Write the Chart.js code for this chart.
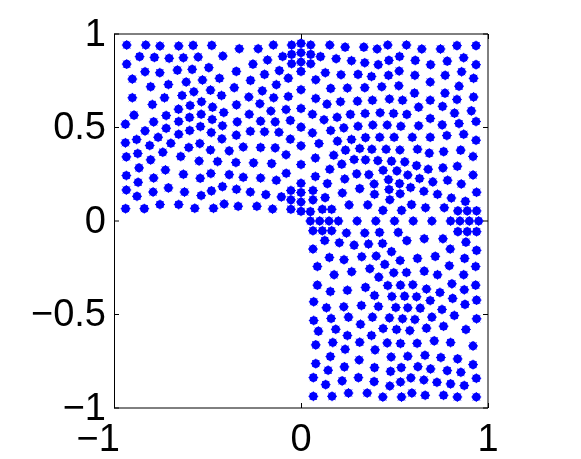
<!DOCTYPE html>
<html><head><meta charset="utf-8">
<style>html,body{margin:0;padding:0;background:#fff}canvas{display:block}</style>
<script src="https://cdn.jsdelivr.net/npm/chart.js@4"></script></head>
<body><canvas id="c" width="581" height="459"></canvas>
<script>
const xTickValues=[-1,0,1];
const xTickLabels=['\u22121   ','0','1'];
const yTickValues=[-1,-0.5,0,0.5,1];
const yTickLabels=['\u22121','\u22120.5','0','0.5','1'];
const upperLeftPoints=[[-.932,.941],[-.83,.941],[-.754,.936],[-.654,.936],[-.577,.939],[-.477,.939],[-.33,.921],[-.229,.921],[-.148,.941],[-.05,.941],[0,.95],[-.05,.891],[0,.9],[-.098,.88],[-.179,.861],[-.05,.841],[0,.85],[-.863,.879],[-.784,.875],[-.705,.87],[-.629,.873],[-.55,.877],[-.418,.882],[-.932,.839],[-.257,.839],[-.834,.798],[-.755,.793],[-.661,.807],[-.582,.811],[-.493,.82],[-.346,.8],[-.195,.784],[-.116,.804],[0,.8],[-.902,.759],[-.436,.763],[-.527,.754],[-.27,.752],[-.068,.764],[-.804,.718],[-.709,.73],[-.614,.743],[-.357,.713],[-.132,.729],[-.484,.7],[-.573,.691],[-.207,.696],[0,.702],[-.902,.659],[-.73,.659],[-.636,.671],[-.425,.671],[-.279,.663],[-.146,.659],[-.068,.666],[-.795,.623],[-.593,.618],[-.532,.638],[-.473,.609],[-.345,.621],[-.22,.627],[0,.602],[-.655,.598],[-.413,.58],[-.161,.588],[-.08,.596],[-.893,.566],[-.721,.564],[-.596,.554],[-.534,.571],[-.277,.571],[-.939,.518],[-.788,.53],[-.654,.532],[-.475,.543],[-.341,.53],[-.216,.534],[-.138,.53],[-.057,.538],[-.721,.496],[-.538,.505],[-.42,.509],[0,.502],[-.834,.482],[-.595,.484],[-.48,.473],[-.271,.48],[-.195,.477],[-.118,.475],[-.654,.464],[-.346,.459],[-.764,.448],[-.879,.436],[-.423,.439],[-.057,.438],[-.939,.418],[-.696,.416],[-.541,.414],[-.809,.404],[-.6,.393],[-.309,.396],[-.216,.393],[-.138,.391],[0,.402],[-.739,.368],[-.484,.38],[-.384,.375],[-.873,.361],[-.08,.354],[-.934,.343],[-.643,.345],[-.804,.327],[-.545,.321],[-.446,.318],[-.348,.313],[-.254,.311],[-.157,.307],[0,.302],[-.866,.284],[-.725,.273],[-.934,.243],[-.629,.25],[-.482,.254],[-.384,.248],[-.309,.234],[-.216,.23],[-.079,.255],[-.788,.23],[-.539,.229],[-.132,.218],[-.871,.207],[0,.202],[-.934,.166],[-.791,.155],[-.709,.177],[-.623,.155],[-.479,.161],[-.42,.184],[-.345,.17],[-.271,.155],[-.188,.141],[-.054,.163],[0,.152],[-.877,.132],[-.534,.136],[-.105,.129],[-.054,.113],[0,.102],[-.938,.066],[-.838,.066],[-.754,.088],[-.654,.088],[-.568,.068],[-.468,.068],[-.411,.091],[-.336,.079],[-.236,.079],[-.152,.064],[-.054,.063],[0,.052]];
const upperRightPoints=[[.052,.941],[.052,.891],[.052,.841],[.104,.879],[.154,.941],[.236,.93],[.336,.93],[.407,.92],[.464,.941],[.564,.941],[.646,.92],[.746,.92],[.834,.938],[.936,.938],[.188,.868],[.27,.857],[.341,.846],[.413,.836],[.47,.859],[.527,.88],[.611,.859],[.693,.836],[.782,.855],[.87,.873],[.936,.836],[.13,.793],[.079,.755],[.214,.782],[.305,.784],[.377,.773],[.468,.779],[.525,.802],[.609,.779],[.771,.779],[.859,.798],[.923,.763],[.691,.743],[.159,.709],[.248,.711],[.341,.713],[.432,.718],[.523,.723],[.845,.721],[.607,.684],[.77,.684],[.923,.663],[.079,.655],[.139,.625],[.211,.638],[.302,.641],[.382,.646],[.473,.652],[.543,.646],[.691,.646],[.834,.65],[.629,.609],[.757,.613],[.911,.589],[.061,.571],[.193,.555],[.264,.57],[.343,.575],[.423,.579],[.495,.575],[.566,.57],[.821,.577],[.123,.541],[.691,.548],[.936,.532],[.229,.498],[.159,.484],[.305,.507],[.384,.513],[.461,.513],[.534,.507],[.629,.509],[.755,.514],[.845,.521],[.061,.471],[.87,.464],[.345,.446],[.27,.436],[.195,.427],[.421,.448],[.498,.448],[.595,.448],[.691,.448],[.78,.457],[.936,.432],[.096,.414],[.314,.388],[.379,.384],[.455,.384],[.529,.38],[.623,.384],[.686,.363],[.763,.371],[.854,.379],[.238,.379],[.175,.352],[.077,.337],[.284,.329],[.345,.327],[.411,.323],[.484,.32],[.555,.316],[.92,.345],[.218,.304],[.618,.296],[.759,.284],[.836,.293],[.154,.277],[.439,.271],[.513,.268],[.68,.277],[.077,.238],[.298,.252],[.363,.248],[.571,.246],[.92,.246],[.234,.225],[.634,.227],[.468,.221],[.705,.209],[.784,.218],[.141,.2],[.391,.198],[.527,.2],[.857,.198],[.314,.173],[.471,.168],[.586,.179],[.657,.159],[.064,.163],[.221,.15],[.393,.143],[.53,.146],[.73,.143],[.939,.154],[.064,.113],[.129,.125],[.475,.114],[.804,.123],[.879,.105],[.257,.086],[.357,.086],[.591,.0875],[.666,.071],[.766,.071],[.05,.05],[.114,.0625],[.164,.0625],[.438,.057],[.538,.057],[.839,.054],[.889,.054],[.939,.054],[.05,0],[.1,0],[.15,0],[.2,0],[.3,0],[.4,0],[.5,0],[.6,0],[.7,0],[.8,0],[.85,0],[.9,0],[.95,0]];
const lowerRightPoints=[[.064,-.052],[.114,-.052],[.164,-.052],[.243,-.064],[.341,-.064],[.42,-.061],[.52,-.061],[.839,-.057],[.889,-.057],[.939,-.057],[.127,-.104],[.205,-.116],[.284,-.129],[.361,-.123],[.436,-.12],[.566,-.105],[.659,-.095],[.759,-.095],[.882,-.113],[.064,-.15],[.798,-.15],[.939,-.157],[.484,-.164],[.152,-.195],[.23,-.207],[.325,-.191],[.402,-.1875],[.53,-.211],[.623,-.2],[.718,-.189],[.875,-.2],[.0875,-.243],[.448,-.232],[.793,-.239],[.934,-.243],[.368,-.255],[.271,-.271],[.177,-.2875],[.496,-.277],[.564,-.275],[.659,-.268],[.73,-.2875],[.87,-.2875],[.416,-.3],[.0875,-.343],[.464,-.345],[.532,-.343],[.598,-.341],[.807,-.336],[.934,-.343],[.157,-.377],[.248,-.37],[.345,-.355],[.671,-.364],[.873,-.368],[.743,-.382],[.393,-.398],[.486,-.404],[.554,-.402],[.618,-.405],[.811,-.414],[.691,-.425],[.939,-.423],[.068,-.432],[.136,-.464],[.229,-.459],[.323,-.452],[.414,-.457],[.507,-.4625],[.571,-.464],[.6375,-.466],[.877,-.446],[.754,-.473],[.82,-.505],[.161,-.521],[.254,-.514],[.382,-.514],[.473,-.518],[.543,-.523],[.609,-.527],[.7,-.514],[.939,-.523],[.068,-.532],[.318,-.552],[.7625,-.5625],[.186,-.579],[.439,-.575],[.511,-.58],[.582,-.586],[.671,-.573],[.882,-.58],[.093,-.589],[.248,-.6125],[.377,-.6125],[.079,-.6625],[.17,-.65],[.314,-.648],[.461,-.652],[.532,-.655],[.621,-.654],[.7125,-.641],[.8,-.65],[.92,-.668],[.236,-.686],[.396,-.689],[.157,-.725],[.311,-.743],[.482,-.727],[.571,-.723],[.663,-.718],[.748,-.73],[.8375,-.7375],[.079,-.7625],[.232,-.78],[.393,-.784],[.145,-.798],[.479,-.804],[.536,-.784],[.625,-.779],[.693,-.791],[.782,-.8],[.855,-.809],[.92,-.768],[.066,-.8375],[.132,-.875],[.22,-.855],[.307,-.8375],[.391,-.859],[.475,-.882],[.532,-.861],[.5875,-.839],[.657,-.85],[.727,-.8625],[.8,-.871],[.873,-.88],[.9375,-.841],[.066,-.9375],[.166,-.9375],[.254,-.92],[.354,-.92],[.4375,-.941],[.5375,-.941],[.593,-.92],[.664,-.932],[.7625,-.932],[.836,-.941],[.9375,-.941]];
const allPoints=[...upperLeftPoints,...upperRightPoints,...lowerRightPoints].map(p=>({x:p[0],y:p[1]}));
const frame={id:'frame',afterDatasetsDraw(ch){
  const {ctx,chartArea:a,scales:{x,y}}=ch;const t=5;
  ctx.save();ctx.strokeStyle='#000';ctx.lineWidth=1;ctx.beginPath();
  xTickValues.forEach(v=>{const p=Math.round(x.getPixelForValue(v))+.5;ctx.moveTo(p,a.top);ctx.lineTo(p,a.top+t);ctx.moveTo(p,a.bottom);ctx.lineTo(p,a.bottom-t);});
  yTickValues.forEach(v=>{const p=y.getPixelForValue(v);ctx.moveTo(a.left,p);ctx.lineTo(a.left+t,p);ctx.moveTo(a.right,p);ctx.lineTo(a.right-t,p);});
  ctx.moveTo(a.left+.5,a.top);ctx.lineTo(a.left+.5,a.bottom);ctx.stroke();
  ctx.beginPath();ctx.moveTo(a.left,a.top);ctx.lineTo(a.right,a.top);ctx.lineTo(a.right,a.bottom);ctx.lineTo(a.left,a.bottom);ctx.stroke();
  ctx.restore();}};
const fontSpec={family:'"Liberation Sans",Arial,sans-serif',size:38};
new Chart(document.getElementById('c'),{type:'scatter',
 data:{datasets:[
  {data:allPoints,backgroundColor:'#0000ff',borderColor:'#0000ff',pointStyle:'circle',pointRadius:4.3,pointBorderWidth:0,clip:false},
  {data:allPoints,backgroundColor:'#0000ff',borderColor:'#0000ff',pointStyle:'star',pointRadius:4.9,pointBorderWidth:1,clip:false}
 ]},
 plugins:[frame],
 options:{responsive:false,animation:false,
  layout:{padding:{left:0,top:34,right:93,bottom:0}},
  plugins:{legend:{display:false},tooltip:{enabled:false}},
  scales:{
   x:{type:'linear',min:-1,max:1,grid:{display:false},border:{display:false},
      afterFit(s){s.height=51;},
      afterBuildTicks(s){s.ticks=xTickValues.map(v=>({value:v}));},
      ticks:{font:fontSpec,color:'#000',padding:2,maxRotation:0,autoSkip:false,callback:v=>xTickLabels[xTickValues.indexOf(v)]}},
   y:{type:'linear',min:-1,max:1,grid:{display:false},border:{display:false},
      afterFit(s){s.width=114;},
      afterBuildTicks(s){s.ticks=yTickValues.map(v=>({value:v}));},
      ticks:{font:fontSpec,color:'#000',padding:0,labelOffset:1.5,autoSkip:false,callback:v=>yTickLabels[yTickValues.indexOf(v)]}}
  }}});
</script></body></html>
